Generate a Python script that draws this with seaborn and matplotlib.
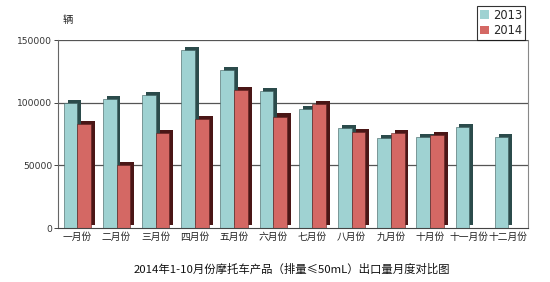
import numpy as np
import pandas as pd
import matplotlib
matplotlib.use("Agg")
import matplotlib.pyplot as plt
import matplotlib.patheffects as pe
import seaborn as sns

months = ["一月份", "二月份", "三月份", "四月份", "五月份", "六月份",
          "七月份", "八月份", "九月份", "十月份", "十一月份", "十二月份"]
v2013 = [100000, 103000, 106000, 142000, 126000, 109000,
         95000, 80000, 72000, 73000, 81000, 73000]
v2014 = [83000, 50000, 76000, 87000, 110000, 89000,
         99000, 77000, 76000, 74000, np.nan, np.nan]
series = ["2013", "2014"]
yticks = [0, 50000, 100000, 150000]
title = "2014年1-10月份摩托车产品（排量≤50mL）出口量月度对比图"
unit = "辆"

df = pd.DataFrame({
    "月份": months * 2,
    "年份": [series[0]] * len(months) + [series[1]] * len(months),
    "数量": v2013 + v2014,
})

sns.set_theme(style="white")
plt.rcParams["font.family"] = ["Noto Sans CJK SC", "DejaVu Sans"]

fig = plt.figure(figsize=(5.5, 2.82), dpi=100)
ax = fig.add_axes([0.105, 0.191, 0.855, 0.667])

palette = {"2013": "#9fd2d2", "2014": "#d46864"}
sns.barplot(data=df, x="月份", y="数量", hue="年份", palette=palette,
            width=0.70, gap=0.0, ax=ax, edgecolor="none", saturation=1)

shadow = {"2013": "#2b4b4b", "2014": "#4a1616"}
for container, name in zip(ax.containers, series):
    for p in container.patches:
        p.set_path_effects([
            pe.SimplePatchShadow(offset=(2.8, 2.2), shadow_rgbFace=shadow[name], alpha=1.0),
            pe.Normal(),
        ])
        p.set_linewidth(0.4)
        p.set_edgecolor("#3a5a5a" if name == "2013" else "#5a2020")

ax.set_ylim(0, 150000)
ax.set_yticks(yticks)
ax.set_yticklabels([str(t) for t in yticks], fontsize=6.6, family="DejaVu Sans", color="#333333")
ax.tick_params(axis="x", labelsize=7.0, pad=3, colors="#222222", length=0)
ax.tick_params(axis="y", length=3, left=True, width=0.6, pad=1)
ax.set_xlabel("")
ax.set_ylabel("")
ax.set_xlim(-0.5, len(months) - 0.5)
for y in yticks[1:]:
    ax.axhline(y, color="#555555", lw=0.9, zorder=0)
ax.spines["top"].set_visible(False)
ax.spines["left"].set_color("#666666")
ax.spines["bottom"].set_color("#444444")
ax.spines["right"].set_color("#888888")
for s in ax.spines.values():
    s.set_linewidth(0.8)

leg = ax.legend(loc="upper right", bbox_to_anchor=(0.965, 1.0), bbox_transform=fig.transFigure,
                fontsize=8.3, frameon=True, handlelength=0.8, handleheight=0.8,
                handletextpad=0.3, borderpad=0.25, labelspacing=0.2, fancybox=False,
                title=None)
leg.get_frame().set_edgecolor("black")
leg.get_frame().set_linewidth(0.8)
for t in leg.get_texts():
    t.set_family("DejaVu Sans")

fig.text(0.113, 0.93, unit, fontsize=7.5, ha="left", va="center")
fig.text(0.53, 0.045, title, fontsize=8.2, ha="center", va="center", color="#111111")

fig.savefig("out.png", dpi=100, facecolor="white")
